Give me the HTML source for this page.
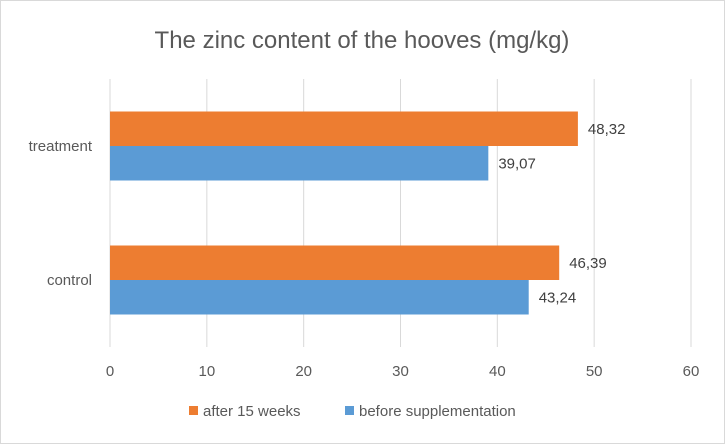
<!DOCTYPE html>
<html><head><meta charset="utf-8"><style>
body{margin:0;background:#fff;font-family:"Liberation Sans",sans-serif}
svg{display:block}
</style></head><body>
<svg width="725" height="444">
<rect x="0.5" y="0.5" width="724" height="443" fill="#fff" stroke="#d9d9d9"/>
<text x="362" y="48" text-anchor="middle" font-size="24" fill="#595959">The zinc content of the hooves (mg/kg)</text>
<g id="grid"></g><g id="bars"></g><g id="labels"></g>
<g>
<rect x="189" y="406" width="9" height="9" fill="#ed7d31"/>
<text x="203" y="416" font-size="15" fill="#595959">after 15 weeks</text>
<rect x="345" y="406" width="9" height="9" fill="#5b9bd5"/>
<text x="359" y="416" font-size="15" fill="#595959">before supplementation</text>
</g>
</svg>
<script>
const categories=["treatment","control"];
const afterVals=[48.32,46.39];
const beforeVals=[39.07,43.24];
const xTicks=[0,10,20,30,40,50,60];
const NS="http://www.w3.org/2000/svg";
const x0=110,x1=691,yTop=79,yBot=347,xmax=60;
const xs=v=>x0+(x1-x0)*v/xmax;
const band=(yBot-yTop)/categories.length;
function mk(tag,attrs,parent){const e=document.createElementNS(NS,tag);for(const k in attrs)e.setAttribute(k,attrs[k]);document.getElementById(parent).appendChild(e);return e;}
xTicks.forEach(t=>{
 const l=mk("line",{x1:xs(t),x2:xs(t),y1:yTop,y2:yBot,stroke:"#d9d9d9"},"grid");
 
 
 const tx=mk("text",{x:xs(t),y:376,"text-anchor":"middle","font-size":15,fill:"#595959"},"labels");
 tx.textContent=t;
 
 
});
const fmt=v=>v.toFixed(2).replace(".",",");
categories.forEach((c,i)=>{
 const cy=yTop+band*(i+0.5);
 const bh=34.5;
 const a=mk("rect",{x:x0,y:cy-bh,width:xs(afterVals[i])-x0,height:bh,fill:"#ed7d31"},"bars");
 
 
 const b=mk("rect",{x:x0,y:cy,width:xs(beforeVals[i])-x0,height:bh,fill:"#5b9bd5"},"bars");
 
 
 const la=mk("text",{x:xs(afterVals[i])+10,y:cy-bh/2+5,"font-size":15,fill:"#404040"},"labels");
 la.textContent=fmt(afterVals[i]);
 
 
 const lb=mk("text",{x:xs(beforeVals[i])+10,y:cy+bh/2+5,"font-size":15,fill:"#404040"},"labels");
 lb.textContent=fmt(beforeVals[i]);
 
 
 const cl=mk("text",{x:92,y:cy+5,"text-anchor":"end","font-size":15,fill:"#595959"},"labels");
 cl.textContent=c;
 
 
});
</script>
</body></html>
